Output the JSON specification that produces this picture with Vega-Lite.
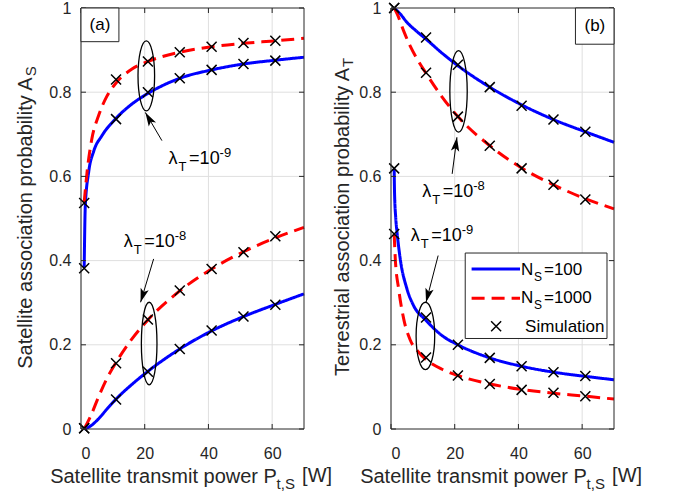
{
  "$schema": "https://vega.github.io/schema/vega-lite/v6.json",
  "background": "white",
  "padding": {"left": 15, "top": 0, "right": 5, "bottom": 5},
  "spacing": 87,
  "bounds": "flush",
  "config": {
    "font": "Liberation Sans",
    "view": {"stroke": null},
    "axis": {
      "labelFont": "Liberation Sans", "labelFontSize": 16, "labelColor": "#262626",
      "titleFont": "Liberation Sans", "titleFontSize": 20, "titleFontWeight": "normal", "titleColor": "#262626",
      "ticks": false, "grid": false, "domain": false
    },
    "text": {"font": "Liberation Sans"}
  },
  "datasets": {
    "one": [{}],
    "gx": [{"P":0},{"P":20},{"P":40},{"P":60}],
    "gy": [{"v":0.2},{"v":0.4},{"v":0.6},{"v":0.8}],
    "tx": [{"P":0},{"P":20},{"P":40},{"P":60}],
    "ty": [{"v":0},{"v":0.2},{"v":0.4},{"v":0.6},{"v":0.8},{"v":1}],
    "curves": [
      {"panel":"a","lam":"1e-9","ns":"100","P":1,"v":0.384},{"panel":"a","lam":"1e-9","ns":"100","P":1.35,"v":0.53},{"panel":"a","lam":"1e-9","ns":"100","P":2.4,"v":0.61},{"panel":"a","lam":"1e-9","ns":"100","P":4,"v":0.66},{"panel":"a","lam":"1e-9","ns":"100","P":6.6,"v":0.697},{"panel":"a","lam":"1e-9","ns":"100","P":11,"v":0.738},{"panel":"a","lam":"1e-9","ns":"100","P":16,"v":0.772},{"panel":"a","lam":"1e-9","ns":"100","P":21,"v":0.797},{"panel":"a","lam":"1e-9","ns":"100","P":31,"v":0.833},{"panel":"a","lam":"1e-9","ns":"100","P":41,"v":0.853},{"panel":"a","lam":"1e-9","ns":"100","P":51,"v":0.867},{"panel":"a","lam":"1e-9","ns":"100","P":61,"v":0.876},{"panel":"a","lam":"1e-9","ns":"100","P":70,"v":0.883},
      {"panel":"a","lam":"1e-9","ns":"1000","P":1,"v":0.538},{"panel":"a","lam":"1e-9","ns":"1000","P":1.9,"v":0.61},{"panel":"a","lam":"1e-9","ns":"1000","P":3.4,"v":0.689},{"panel":"a","lam":"1e-9","ns":"1000","P":5.5,"v":0.744},{"panel":"a","lam":"1e-9","ns":"1000","P":8.1,"v":0.79},{"panel":"a","lam":"1e-9","ns":"1000","P":11,"v":0.822},{"panel":"a","lam":"1e-9","ns":"1000","P":16,"v":0.855},{"panel":"a","lam":"1e-9","ns":"1000","P":21,"v":0.873},{"panel":"a","lam":"1e-9","ns":"1000","P":31,"v":0.895},{"panel":"a","lam":"1e-9","ns":"1000","P":41,"v":0.908},{"panel":"a","lam":"1e-9","ns":"1000","P":51,"v":0.916},{"panel":"a","lam":"1e-9","ns":"1000","P":61,"v":0.922},{"panel":"a","lam":"1e-9","ns":"1000","P":70,"v":0.928},
      {"panel":"a","lam":"1e-8","ns":"100","P":1,"v":0},{"panel":"a","lam":"1e-8","ns":"100","P":3,"v":0.007},{"panel":"a","lam":"1e-8","ns":"100","P":5.6,"v":0.025},{"panel":"a","lam":"1e-8","ns":"100","P":8,"v":0.046},{"panel":"a","lam":"1e-8","ns":"100","P":11,"v":0.071},{"panel":"a","lam":"1e-8","ns":"100","P":16,"v":0.106},{"panel":"a","lam":"1e-8","ns":"100","P":21,"v":0.137},{"panel":"a","lam":"1e-8","ns":"100","P":31,"v":0.19},{"panel":"a","lam":"1e-8","ns":"100","P":41,"v":0.233},{"panel":"a","lam":"1e-8","ns":"100","P":51,"v":0.267},{"panel":"a","lam":"1e-8","ns":"100","P":61,"v":0.296},{"panel":"a","lam":"1e-8","ns":"100","P":70,"v":0.321},
      {"panel":"a","lam":"1e-8","ns":"1000","P":1,"v":0},{"panel":"a","lam":"1e-8","ns":"1000","P":3,"v":0.03},{"panel":"a","lam":"1e-8","ns":"1000","P":5.6,"v":0.078},{"panel":"a","lam":"1e-8","ns":"1000","P":8,"v":0.118},{"panel":"a","lam":"1e-8","ns":"1000","P":11,"v":0.158},{"panel":"a","lam":"1e-8","ns":"1000","P":16,"v":0.214},{"panel":"a","lam":"1e-8","ns":"1000","P":21,"v":0.259},{"panel":"a","lam":"1e-8","ns":"1000","P":31,"v":0.328},{"panel":"a","lam":"1e-8","ns":"1000","P":41,"v":0.38},{"panel":"a","lam":"1e-8","ns":"1000","P":51,"v":0.421},{"panel":"a","lam":"1e-8","ns":"1000","P":61,"v":0.454},{"panel":"a","lam":"1e-8","ns":"1000","P":70,"v":0.479},
      {"panel":"b","lam":"1e-8","ns":"100","P":1,"v":1},{"panel":"b","lam":"1e-8","ns":"100","P":3,"v":0.985},{"panel":"b","lam":"1e-8","ns":"100","P":5,"v":0.966},{"panel":"b","lam":"1e-8","ns":"100","P":8,"v":0.945},{"panel":"b","lam":"1e-8","ns":"100","P":11,"v":0.926},{"panel":"b","lam":"1e-8","ns":"100","P":16,"v":0.893},{"panel":"b","lam":"1e-8","ns":"100","P":21,"v":0.863},{"panel":"b","lam":"1e-8","ns":"100","P":31,"v":0.812},{"panel":"b","lam":"1e-8","ns":"100","P":41,"v":0.77},{"panel":"b","lam":"1e-8","ns":"100","P":51,"v":0.735},{"panel":"b","lam":"1e-8","ns":"100","P":61,"v":0.706},{"panel":"b","lam":"1e-8","ns":"100","P":70,"v":0.681},
      {"panel":"b","lam":"1e-8","ns":"1000","P":1,"v":1},{"panel":"b","lam":"1e-8","ns":"1000","P":2,"v":0.985},{"panel":"b","lam":"1e-8","ns":"1000","P":4,"v":0.945},{"panel":"b","lam":"1e-8","ns":"1000","P":6,"v":0.91},{"panel":"b","lam":"1e-8","ns":"1000","P":8.5,"v":0.875},{"panel":"b","lam":"1e-8","ns":"1000","P":11,"v":0.845},{"panel":"b","lam":"1e-8","ns":"1000","P":16,"v":0.789},{"panel":"b","lam":"1e-8","ns":"1000","P":21,"v":0.742},{"panel":"b","lam":"1e-8","ns":"1000","P":31,"v":0.673},{"panel":"b","lam":"1e-8","ns":"1000","P":41,"v":0.62},{"panel":"b","lam":"1e-8","ns":"1000","P":51,"v":0.58},{"panel":"b","lam":"1e-8","ns":"1000","P":61,"v":0.547},{"panel":"b","lam":"1e-8","ns":"1000","P":70,"v":0.523},
      {"panel":"b","lam":"1e-9","ns":"100","P":1,"v":0.618},{"panel":"b","lam":"1e-9","ns":"100","P":1.1,"v":0.565},{"panel":"b","lam":"1e-9","ns":"100","P":1.5,"v":0.5},{"panel":"b","lam":"1e-9","ns":"100","P":1.9,"v":0.467},{"panel":"b","lam":"1e-9","ns":"100","P":2.9,"v":0.404},{"panel":"b","lam":"1e-9","ns":"100","P":5,"v":0.333},{"panel":"b","lam":"1e-9","ns":"100","P":7.1,"v":0.293},{"panel":"b","lam":"1e-9","ns":"100","P":11,"v":0.258},{"panel":"b","lam":"1e-9","ns":"100","P":16,"v":0.222},{"panel":"b","lam":"1e-9","ns":"100","P":21,"v":0.2},{"panel":"b","lam":"1e-9","ns":"100","P":31,"v":0.169},{"panel":"b","lam":"1e-9","ns":"100","P":41,"v":0.149},{"panel":"b","lam":"1e-9","ns":"100","P":51,"v":0.135},{"panel":"b","lam":"1e-9","ns":"100","P":61,"v":0.125},{"panel":"b","lam":"1e-9","ns":"100","P":70,"v":0.117},
      {"panel":"b","lam":"1e-9","ns":"1000","P":1,"v":0.463},{"panel":"b","lam":"1e-9","ns":"1000","P":1.35,"v":0.404},{"panel":"b","lam":"1e-9","ns":"1000","P":2.4,"v":0.333},{"panel":"b","lam":"1e-9","ns":"1000","P":4,"v":0.261},{"panel":"b","lam":"1e-9","ns":"1000","P":6,"v":0.212},{"panel":"b","lam":"1e-9","ns":"1000","P":8.6,"v":0.183},{"panel":"b","lam":"1e-9","ns":"1000","P":11,"v":0.165},{"panel":"b","lam":"1e-9","ns":"1000","P":16,"v":0.142},{"panel":"b","lam":"1e-9","ns":"1000","P":21,"v":0.127},{"panel":"b","lam":"1e-9","ns":"1000","P":31,"v":0.107},{"panel":"b","lam":"1e-9","ns":"1000","P":41,"v":0.094},{"panel":"b","lam":"1e-9","ns":"1000","P":51,"v":0.085},{"panel":"b","lam":"1e-9","ns":"1000","P":61,"v":0.078},{"panel":"b","lam":"1e-9","ns":"1000","P":70,"v":0.071}
    ],
    "sims": [
      {"panel":"a","lam":"1e-9","ns":"100","P":1,"v":0.382},{"panel":"a","lam":"1e-9","ns":"100","P":11,"v":0.736},{"panel":"a","lam":"1e-9","ns":"100","P":21,"v":0.8},{"panel":"a","lam":"1e-9","ns":"100","P":31,"v":0.833},{"panel":"a","lam":"1e-9","ns":"100","P":41,"v":0.853},{"panel":"a","lam":"1e-9","ns":"100","P":51,"v":0.867},{"panel":"a","lam":"1e-9","ns":"100","P":61,"v":0.875},
      {"panel":"a","lam":"1e-9","ns":"1000","P":1,"v":0.537},{"panel":"a","lam":"1e-9","ns":"1000","P":11,"v":0.83},{"panel":"a","lam":"1e-9","ns":"1000","P":21,"v":0.873},{"panel":"a","lam":"1e-9","ns":"1000","P":31,"v":0.895},{"panel":"a","lam":"1e-9","ns":"1000","P":41,"v":0.908},{"panel":"a","lam":"1e-9","ns":"1000","P":51,"v":0.917},{"panel":"a","lam":"1e-9","ns":"1000","P":61,"v":0.922},
      {"panel":"a","lam":"1e-8","ns":"100","P":1,"v":0.002},{"panel":"a","lam":"1e-8","ns":"100","P":11,"v":0.07},{"panel":"a","lam":"1e-8","ns":"100","P":21,"v":0.136},{"panel":"a","lam":"1e-8","ns":"100","P":31,"v":0.19},{"panel":"a","lam":"1e-8","ns":"100","P":41,"v":0.234},{"panel":"a","lam":"1e-8","ns":"100","P":51,"v":0.267},{"panel":"a","lam":"1e-8","ns":"100","P":61,"v":0.295},
      {"panel":"a","lam":"1e-8","ns":"1000","P":1,"v":0.002},{"panel":"a","lam":"1e-8","ns":"1000","P":11,"v":0.156},{"panel":"a","lam":"1e-8","ns":"1000","P":21,"v":0.26},{"panel":"a","lam":"1e-8","ns":"1000","P":31,"v":0.329},{"panel":"a","lam":"1e-8","ns":"1000","P":41,"v":0.38},{"panel":"a","lam":"1e-8","ns":"1000","P":51,"v":0.42},{"panel":"a","lam":"1e-8","ns":"1000","P":61,"v":0.458},
      {"panel":"b","lam":"1e-8","ns":"100","P":1,"v":1},{"panel":"b","lam":"1e-8","ns":"100","P":11,"v":0.93},{"panel":"b","lam":"1e-8","ns":"100","P":21,"v":0.865},{"panel":"b","lam":"1e-8","ns":"100","P":31,"v":0.812},{"panel":"b","lam":"1e-8","ns":"100","P":41,"v":0.768},{"panel":"b","lam":"1e-8","ns":"100","P":51,"v":0.735},{"panel":"b","lam":"1e-8","ns":"100","P":61,"v":0.706},
      {"panel":"b","lam":"1e-8","ns":"1000","P":1,"v":1},{"panel":"b","lam":"1e-8","ns":"1000","P":11,"v":0.846},{"panel":"b","lam":"1e-8","ns":"1000","P":21,"v":0.742},{"panel":"b","lam":"1e-8","ns":"1000","P":31,"v":0.673},{"panel":"b","lam":"1e-8","ns":"1000","P":41,"v":0.619},{"panel":"b","lam":"1e-8","ns":"1000","P":51,"v":0.58},{"panel":"b","lam":"1e-8","ns":"1000","P":61,"v":0.545},
      {"panel":"b","lam":"1e-9","ns":"100","P":1,"v":0.619},{"panel":"b","lam":"1e-9","ns":"100","P":11,"v":0.265},{"panel":"b","lam":"1e-9","ns":"100","P":21,"v":0.2},{"panel":"b","lam":"1e-9","ns":"100","P":31,"v":0.169},{"panel":"b","lam":"1e-9","ns":"100","P":41,"v":0.149},{"panel":"b","lam":"1e-9","ns":"100","P":51,"v":0.135},{"panel":"b","lam":"1e-9","ns":"100","P":61,"v":0.126},
      {"panel":"b","lam":"1e-9","ns":"1000","P":1,"v":0.463},{"panel":"b","lam":"1e-9","ns":"1000","P":11,"v":0.17},{"panel":"b","lam":"1e-9","ns":"1000","P":21,"v":0.127},{"panel":"b","lam":"1e-9","ns":"1000","P":31,"v":0.107},{"panel":"b","lam":"1e-9","ns":"1000","P":41,"v":0.093},{"panel":"b","lam":"1e-9","ns":"1000","P":51,"v":0.086},{"panel":"b","lam":"1e-9","ns":"1000","P":61,"v":0.078}
    ],
    "labels": [
      {"panel":"a","P":27.5,"v":0.629,"exp":"-9"},
      {"panel":"a","P":13.4,"v":0.432,"exp":"-8"},
      {"panel":"b","P":9.8,"v":0.551,"exp":"-8"},
      {"panel":"b","P":6.2,"v":0.446,"exp":"-9"}
    ],
    "legendText": [
      {"ns":"100","rest":"=100","P":40.8,"v":0.366},
      {"ns":"1000","rest":"=1000","P":40.8,"v":0.2986}
    ],
    "legendLines": [
      {"ns":"100","P":25.3,"P2":40.5,"v":0.38},
      {"ns":"1000","P":25.3,"P2":40.5,"v":0.3105}
    ]
  },
  "hconcat": [
    {
      "width": 223,
      "height": 421,
      "layer": [
        {
          "data": {"name": "gx"},
          "mark": {"type": "rule", "color": "#dfdfdf", "strokeWidth": 1},
          "encoding": {
            "x": {"field": "P", "type": "quantitative", "scale": {"domain": [0, 70], "nice": false, "zero": false},
                  "axis": {"orient": "bottom", "values": [0, 20, 40, 60], "labelPadding": 16,
                           "title": "Satellite transmit power P", "titleAlign": "right", "titleBaseline": "alphabetic", "titleX": 195.4, "titleY": 53}},
            "y": {"datum": 0, "type": "quantitative", "scale": {"domain": [0, 1], "nice": false, "zero": false},
                  "axis": {"orient": "left", "values": [0, 0.2, 0.4, 0.6, 0.8, 1], "format": "~g", "labelPadding": 10,
                           "title": "Satellite association probability A", "titleAngle": 270, "titleAlign": "right", "titleBaseline": "alphabetic", "titleX": -50, "titleY": 69}},
            "y2": {"datum": 1}
          }
        },
        {
          "data": {"name": "gy"},
          "mark": {"type": "rule", "color": "#dfdfdf", "strokeWidth": 1},
          "encoding": {"y": {"field": "v", "type": "quantitative", "axis": null}, "x": {"datum": 0, "type": "quantitative", "axis": null}, "x2": {"datum": 70}}
        },
        {
          "data": {"name": "curves"},
          "transform": [{"filter": "datum.panel === 'a'"}],
          "mark": {"type": "line", "strokeWidth": 3, "interpolate": "monotone"},
          "encoding": {
            "x": {"field": "P", "type": "quantitative", "axis": null},
            "y": {"field": "v", "type": "quantitative", "axis": null},
            "color": {"field": "ns", "type": "nominal", "scale": {"domain": ["100", "1000"], "range": ["#0000ff", "#ff0000"]}, "legend": null},
            "strokeDash": {"field": "ns", "type": "nominal", "scale": {"domain": ["100", "1000"], "range": [[1, 0], [13, 7]]}, "legend": null},
            "detail": {"field": "lam"}
          }
        },
        {
          "data": {"name": "sims"},
          "transform": [{"filter": "datum.panel === 'a'"}],
          "mark": {"type": "point", "shape": "M-1,-1L1,1M-1,1L1,-1", "size": 100, "filled": false, "color": "black", "strokeWidth": 1.5, "opacity": 1},
          "encoding": {
            "x": {"field": "P", "type": "quantitative", "axis": null},
            "y": {"field": "v", "type": "quantitative", "axis": null}
          }
        },
        {
          "data": {"name": "one"},
          "mark": {"type": "rect", "filled": false, "color": "#262626", "strokeWidth": 1},
          "encoding": {
            "x": {"datum": 0, "type": "quantitative", "axis": {"orient": "top", "labels": false, "title": null}}, "x2": {"datum": 70},
            "y": {"datum": 0, "type": "quantitative", "axis": {"orient": "right", "labels": false, "title": null}}, "y2": {"datum": 1}
          }
        },
        {
          "data": {"name": "tx"},
          "mark": {"type": "rule", "color": "#262626", "strokeWidth": 1},
          "encoding": {"x": {"field": "P", "type": "quantitative", "axis": null}, "y": {"datum": 0, "type": "quantitative", "axis": null}, "y2": {"datum": 0.0119}}
        },
        {
          "data": {"name": "tx"},
          "mark": {"type": "rule", "color": "#262626", "strokeWidth": 1},
          "encoding": {"x": {"field": "P", "type": "quantitative", "axis": null}, "y": {"datum": 1, "type": "quantitative", "axis": null}, "y2": {"datum": 0.9881}}
        },
        {
          "data": {"name": "ty"},
          "mark": {"type": "rule", "color": "#262626", "strokeWidth": 1},
          "encoding": {"y": {"field": "v", "type": "quantitative", "axis": null}, "x": {"datum": 0, "type": "quantitative", "axis": null}, "x2": {"datum": 1.5625}}
        },
        {
          "data": {"name": "ty"},
          "mark": {"type": "rule", "color": "#262626", "strokeWidth": 1},
          "encoding": {"y": {"field": "v", "type": "quantitative", "axis": null}, "x": {"datum": 70, "type": "quantitative", "axis": null}, "x2": {"datum": 68.4375}}
        },
        {
          "data": {"name": "one"},
          "mark": {"type": "rect", "fill": "white", "stroke": "#262626", "strokeWidth": 1},
          "encoding": {
            "x": {"datum": 0, "type": "quantitative", "axis": null}, "x2": {"datum": 11.9},
            "y": {"datum": 1, "type": "quantitative", "axis": null}, "y2": {"datum": 0.92}
          }
        },
        {
          "data": {"name": "one"},
          "mark": {"type": "text", "text": "(a)", "fontSize": 17, "align": "center", "baseline": "middle", "color": "black"},
          "encoding": {"x": {"datum": 5.95, "type": "quantitative", "axis": null}, "y": {"datum": 0.96, "type": "quantitative", "axis": null}}
        },
        {
          "data": {"name": "one"},
          "mark": {"type": "point", "shape": "M0,-1C0.131,-1 0.237,-0.552 0.237,0C0.237,0.552 0.131,1 0,1C-0.131,1 -0.237,0.552 -0.237,0C-0.237,-0.552 -0.131,-1 0,-1Z", "size": 4900, "filled": false, "color": "black", "strokeWidth": 1.3, "opacity": 1},
          "encoding": {"x": {"datum": 20.5, "type": "quantitative", "axis": null}, "y": {"datum": 0.839, "type": "quantitative", "axis": null}}
        },
        {
          "data": {"name": "one"},
          "mark": {"type": "point", "shape": "M0,-1C0.104,-1 0.189,-0.552 0.189,0C0.189,0.552 0.104,1 0,1C-0.104,1 -0.189,0.552 -0.189,0C-0.189,-0.552 -0.104,-1 0,-1Z", "size": 6823, "filled": false, "color": "black", "strokeWidth": 1.3, "opacity": 1},
          "encoding": {"x": {"datum": 21.4, "type": "quantitative", "axis": null}, "y": {"datum": 0.203, "type": "quantitative", "axis": null}}
        },
        {
          "data": {"name": "one"},
          "mark": {"type": "rule", "color": "black", "strokeWidth": 1},
          "encoding": {"x": {"datum": 25.4, "type": "quantitative", "axis": null}, "y": {"datum": 0.685, "type": "quantitative", "axis": null}, "x2": {"datum": 20.2}, "y2": {"datum": 0.752}}
        },
        {
          "data": {"name": "one"},
          "mark": {"type": "point", "shape": "M0,0L0.6,2L0,1.55L-0.6,2Z", "size": 196, "angle": 329.7, "filled": true, "color": "black", "opacity": 1},
          "encoding": {"x": {"datum": 20.2, "type": "quantitative", "axis": null}, "y": {"datum": 0.752, "type": "quantitative", "axis": null}}
        },
        {
          "data": {"name": "one"},
          "mark": {"type": "rule", "color": "black", "strokeWidth": 1},
          "encoding": {"x": {"datum": 22.8, "type": "quantitative", "axis": null}, "y": {"datum": 0.404, "type": "quantitative", "axis": null}, "x2": {"datum": 18.7}, "y2": {"datum": 0.301}}
        },
        {
          "data": {"name": "one"},
          "mark": {"type": "point", "shape": "M0,0L0.6,2L0,1.55L-0.6,2Z", "size": 196, "angle": 197.1, "filled": true, "color": "black", "opacity": 1},
          "encoding": {"x": {"datum": 18.7, "type": "quantitative", "axis": null}, "y": {"datum": 0.301, "type": "quantitative", "axis": null}}
        },
        {
          "data": {"name": "labels"}, "transform": [{"filter": "datum.panel === 'a'"}],
          "mark": {"type": "text", "text": "λ", "fontSize": 18, "align": "left", "baseline": "alphabetic", "color": "black"},
          "encoding": {"x": {"field": "P", "type": "quantitative", "axis": null}, "y": {"field": "v", "type": "quantitative", "axis": null}}
        },
        {
          "data": {"name": "labels"}, "transform": [{"filter": "datum.panel === 'a'"}],
          "mark": {"type": "text", "text": "T", "fontSize": 13, "dx": 10, "dy": 7, "align": "left", "baseline": "alphabetic", "color": "black"},
          "encoding": {"x": {"field": "P", "type": "quantitative", "axis": null}, "y": {"field": "v", "type": "quantitative", "axis": null}}
        },
        {
          "data": {"name": "labels"}, "transform": [{"filter": "datum.panel === 'a'"}],
          "mark": {"type": "text", "text": "=10", "fontSize": 18, "dx": 20.5, "align": "left", "baseline": "alphabetic", "color": "black"},
          "encoding": {"x": {"field": "P", "type": "quantitative", "axis": null}, "y": {"field": "v", "type": "quantitative", "axis": null}}
        },
        {
          "data": {"name": "labels"}, "transform": [{"filter": "datum.panel === 'a'"}],
          "mark": {"type": "text", "fontSize": 13, "dx": 51, "dy": -7, "align": "left", "baseline": "alphabetic", "color": "black"},
          "encoding": {"x": {"field": "P", "type": "quantitative", "axis": null}, "y": {"field": "v", "type": "quantitative", "axis": null}, "text": {"field": "exp"}}
        },
        {
          "data": {"name": "one"},
          "mark": {"type": "text", "text": "t,S", "fontSize": 15, "align": "left", "baseline": "alphabetic", "color": "#262626"},
          "encoding": {"x": {"datum": 61.4, "type": "quantitative", "axis": null}, "y": {"datum": -0.1425, "type": "quantitative", "axis": null}}
        },
        {
          "data": {"name": "one"},
          "mark": {"type": "text", "text": "[W]", "fontSize": 20, "align": "left", "baseline": "alphabetic", "color": "#262626"},
          "encoding": {"x": {"datum": 69.4, "type": "quantitative", "axis": null}, "y": {"datum": -0.1259, "type": "quantitative", "axis": null}}
        },
        {
          "data": {"name": "one"},
          "mark": {"type": "text", "text": "S", "fontSize": 15, "angle": 270, "align": "left", "baseline": "alphabetic", "color": "#262626"},
          "encoding": {"x": {"datum": -14.06, "type": "quantitative", "axis": null}, "y": {"datum": 0.838, "type": "quantitative", "axis": null}}
        }
      ]
    },
    {
      "width": 223,
      "height": 421,
      "layer": [
        {
          "data": {"name": "gx"},
          "mark": {"type": "rule", "color": "#dfdfdf", "strokeWidth": 1},
          "encoding": {
            "x": {"field": "P", "type": "quantitative", "scale": {"domain": [0, 70], "nice": false, "zero": false},
                  "axis": {"orient": "bottom", "values": [0, 20, 40, 60], "labelPadding": 16,
                           "title": "Satellite transmit power P", "titleAlign": "right", "titleBaseline": "alphabetic", "titleX": 195.4, "titleY": 53}},
            "y": {"datum": 0, "type": "quantitative", "scale": {"domain": [0, 1], "nice": false, "zero": false},
                  "axis": {"orient": "left", "values": [0, 0.2, 0.4, 0.6, 0.8, 1], "format": "~g", "labelPadding": 10,
                           "title": "Terrestrial association probability A", "titleAngle": 270, "titleAlign": "right", "titleBaseline": "alphabetic", "titleX": -43, "titleY": 59.5}},
            "y2": {"datum": 1}
          }
        },
        {
          "data": {"name": "gy"},
          "mark": {"type": "rule", "color": "#dfdfdf", "strokeWidth": 1},
          "encoding": {"y": {"field": "v", "type": "quantitative", "axis": null}, "x": {"datum": 0, "type": "quantitative", "axis": null}, "x2": {"datum": 70}}
        },
        {
          "data": {"name": "curves"},
          "transform": [{"filter": "datum.panel === 'b'"}],
          "mark": {"type": "line", "strokeWidth": 3, "interpolate": "monotone"},
          "encoding": {
            "x": {"field": "P", "type": "quantitative", "axis": null},
            "y": {"field": "v", "type": "quantitative", "axis": null},
            "color": {"field": "ns", "type": "nominal", "scale": {"domain": ["100", "1000"], "range": ["#0000ff", "#ff0000"]}, "legend": null},
            "strokeDash": {"field": "ns", "type": "nominal", "scale": {"domain": ["100", "1000"], "range": [[1, 0], [13, 7]]}, "legend": null},
            "detail": {"field": "lam"}
          }
        },
        {
          "data": {"name": "sims"},
          "transform": [{"filter": "datum.panel === 'b'"}],
          "mark": {"type": "point", "shape": "M-1,-1L1,1M-1,1L1,-1", "size": 100, "filled": false, "color": "black", "strokeWidth": 1.5, "opacity": 1},
          "encoding": {
            "x": {"field": "P", "type": "quantitative", "axis": null},
            "y": {"field": "v", "type": "quantitative", "axis": null}
          }
        },
        {
          "data": {"name": "one"},
          "mark": {"type": "rect", "filled": false, "color": "#262626", "strokeWidth": 1},
          "encoding": {
            "x": {"datum": 0, "type": "quantitative", "axis": {"orient": "top", "labels": false, "title": null}}, "x2": {"datum": 70},
            "y": {"datum": 0, "type": "quantitative", "axis": {"orient": "right", "labels": false, "title": null}}, "y2": {"datum": 1}
          }
        },
        {
          "data": {"name": "tx"},
          "mark": {"type": "rule", "color": "#262626", "strokeWidth": 1},
          "encoding": {"x": {"field": "P", "type": "quantitative", "axis": null}, "y": {"datum": 0, "type": "quantitative", "axis": null}, "y2": {"datum": 0.0119}}
        },
        {
          "data": {"name": "tx"},
          "mark": {"type": "rule", "color": "#262626", "strokeWidth": 1},
          "encoding": {"x": {"field": "P", "type": "quantitative", "axis": null}, "y": {"datum": 1, "type": "quantitative", "axis": null}, "y2": {"datum": 0.9881}}
        },
        {
          "data": {"name": "ty"},
          "mark": {"type": "rule", "color": "#262626", "strokeWidth": 1},
          "encoding": {"y": {"field": "v", "type": "quantitative", "axis": null}, "x": {"datum": 0, "type": "quantitative", "axis": null}, "x2": {"datum": 1.5625}}
        },
        {
          "data": {"name": "ty"},
          "mark": {"type": "rule", "color": "#262626", "strokeWidth": 1},
          "encoding": {"y": {"field": "v", "type": "quantitative", "axis": null}, "x": {"datum": 70, "type": "quantitative", "axis": null}, "x2": {"datum": 68.4375}}
        },
        {
          "data": {"name": "one"},
          "mark": {"type": "rect", "fill": "white", "stroke": "#262626", "strokeWidth": 1},
          "encoding": {
            "x": {"datum": 57.9, "type": "quantitative", "axis": null}, "x2": {"datum": 70},
            "y": {"datum": 1, "type": "quantitative", "axis": null}, "y2": {"datum": 0.914}
          }
        },
        {
          "data": {"name": "one"},
          "mark": {"type": "text", "text": "(b)", "fontSize": 17, "align": "center", "baseline": "middle", "color": "black"},
          "encoding": {"x": {"datum": 64, "type": "quantitative", "axis": null}, "y": {"datum": 0.957, "type": "quantitative", "axis": null}}
        },
        {
          "data": {"name": "one"},
          "mark": {"type": "point", "shape": "M0,-1C0.118,-1 0.213,-0.552 0.213,0C0.213,0.552 0.118,1 0,1C-0.118,1 -0.213,0.552 -0.213,0C-0.213,-0.552 -0.118,-1 0,-1Z", "size": 6659, "filled": false, "color": "black", "strokeWidth": 1.3, "opacity": 1},
          "encoding": {"x": {"datum": 21.2, "type": "quantitative", "axis": null}, "y": {"datum": 0.802, "type": "quantitative", "axis": null}}
        },
        {
          "data": {"name": "one"},
          "mark": {"type": "point", "shape": "M0,-1C0.152,-1 0.276,-0.552 0.276,0C0.276,0.552 0.152,1 0,1C-0.152,1 -0.276,0.552 -0.276,0C-0.276,-0.552 -0.152,-1 0,-1Z", "size": 4543, "filled": false, "color": "black", "strokeWidth": 1.3, "opacity": 1},
          "encoding": {"x": {"datum": 10.8, "type": "quantitative", "axis": null}, "y": {"datum": 0.221, "type": "quantitative", "axis": null}}
        },
        {
          "data": {"name": "one"},
          "mark": {"type": "rule", "color": "black", "strokeWidth": 1},
          "encoding": {"x": {"datum": 19.2, "type": "quantitative", "axis": null}, "y": {"datum": 0.606, "type": "quantitative", "axis": null}, "x2": {"datum": 20.7}, "y2": {"datum": 0.693}}
        },
        {
          "data": {"name": "one"},
          "mark": {"type": "point", "shape": "M0,0L0.6,2L0,1.55L-0.6,2Z", "size": 196, "angle": 7.8, "filled": true, "color": "black", "opacity": 1},
          "encoding": {"x": {"datum": 20.7, "type": "quantitative", "axis": null}, "y": {"datum": 0.693, "type": "quantitative", "axis": null}}
        },
        {
          "data": {"name": "one"},
          "mark": {"type": "rule", "color": "black", "strokeWidth": 1},
          "encoding": {"x": {"datum": 14.8, "type": "quantitative", "axis": null}, "y": {"datum": 0.412, "type": "quantitative", "axis": null}, "x2": {"datum": 11.0}, "y2": {"datum": 0.301}}
        },
        {
          "data": {"name": "one"},
          "mark": {"type": "point", "shape": "M0,0L0.6,2L0,1.55L-0.6,2Z", "size": 196, "angle": 194.4, "filled": true, "color": "black", "opacity": 1},
          "encoding": {"x": {"datum": 11.0, "type": "quantitative", "axis": null}, "y": {"datum": 0.301, "type": "quantitative", "axis": null}}
        },
        {
          "data": {"name": "labels"}, "transform": [{"filter": "datum.panel === 'b'"}],
          "mark": {"type": "text", "text": "λ", "fontSize": 18, "align": "left", "baseline": "alphabetic", "color": "black"},
          "encoding": {"x": {"field": "P", "type": "quantitative", "axis": null}, "y": {"field": "v", "type": "quantitative", "axis": null}}
        },
        {
          "data": {"name": "labels"}, "transform": [{"filter": "datum.panel === 'b'"}],
          "mark": {"type": "text", "text": "T", "fontSize": 13, "dx": 10, "dy": 7, "align": "left", "baseline": "alphabetic", "color": "black"},
          "encoding": {"x": {"field": "P", "type": "quantitative", "axis": null}, "y": {"field": "v", "type": "quantitative", "axis": null}}
        },
        {
          "data": {"name": "labels"}, "transform": [{"filter": "datum.panel === 'b'"}],
          "mark": {"type": "text", "text": "=10", "fontSize": 18, "dx": 20.5, "align": "left", "baseline": "alphabetic", "color": "black"},
          "encoding": {"x": {"field": "P", "type": "quantitative", "axis": null}, "y": {"field": "v", "type": "quantitative", "axis": null}}
        },
        {
          "data": {"name": "labels"}, "transform": [{"filter": "datum.panel === 'b'"}],
          "mark": {"type": "text", "fontSize": 13, "dx": 51, "dy": -7, "align": "left", "baseline": "alphabetic", "color": "black"},
          "encoding": {"x": {"field": "P", "type": "quantitative", "axis": null}, "y": {"field": "v", "type": "quantitative", "axis": null}, "text": {"field": "exp"}}
        },
        {
          "data": {"name": "one"},
          "mark": {"type": "rect", "fill": "white", "stroke": "#262626", "strokeWidth": 1},
          "encoding": {
            "x": {"datum": 23.3, "type": "quantitative", "axis": null}, "x2": {"datum": 67.8},
            "y": {"datum": 0.418, "type": "quantitative", "axis": null}, "y2": {"datum": 0.215}
          }
        },
        {
          "data": {"name": "legendLines"},
          "mark": {"type": "rule", "strokeWidth": 3},
          "encoding": {
            "x": {"field": "P", "type": "quantitative", "axis": null}, "x2": {"field": "P2"},
            "y": {"field": "v", "type": "quantitative", "axis": null},
            "color": {"field": "ns", "type": "nominal", "scale": {"domain": ["100", "1000"], "range": ["#0000ff", "#ff0000"]}, "legend": null},
            "strokeDash": {"field": "ns", "type": "nominal", "scale": {"domain": ["100", "1000"], "range": [[1, 0], [13, 7]]}, "legend": null}
          }
        },
        {
          "data": {"name": "one"},
          "mark": {"type": "point", "shape": "M-1,-1L1,1M-1,1L1,-1", "size": 100, "filled": false, "color": "black", "strokeWidth": 1.5, "opacity": 1},
          "encoding": {"x": {"datum": 33.0, "type": "quantitative", "axis": null}, "y": {"datum": 0.244, "type": "quantitative", "axis": null}}
        },
        {
          "data": {"name": "legendText"},
          "mark": {"type": "text", "text": "N", "fontSize": 17, "align": "left", "baseline": "alphabetic", "color": "black"},
          "encoding": {"x": {"field": "P", "type": "quantitative", "axis": null}, "y": {"field": "v", "type": "quantitative", "axis": null}}
        },
        {
          "data": {"name": "legendText"},
          "mark": {"type": "text", "text": "S", "fontSize": 12, "dx": 13, "dy": 6, "align": "left", "baseline": "alphabetic", "color": "black"},
          "encoding": {"x": {"field": "P", "type": "quantitative", "axis": null}, "y": {"field": "v", "type": "quantitative", "axis": null}}
        },
        {
          "data": {"name": "legendText"},
          "mark": {"type": "text", "fontSize": 17, "dx": 23, "align": "left", "baseline": "alphabetic", "color": "black"},
          "encoding": {"x": {"field": "P", "type": "quantitative", "axis": null}, "y": {"field": "v", "type": "quantitative", "axis": null}, "text": {"field": "rest"}}
        },
        {
          "data": {"name": "one"},
          "mark": {"type": "text", "text": "Simulation", "fontSize": 17, "align": "left", "baseline": "alphabetic", "color": "black"},
          "encoding": {"x": {"datum": 42.1, "type": "quantitative", "axis": null}, "y": {"datum": 0.23, "type": "quantitative", "axis": null}}
        },
        {
          "data": {"name": "one"},
          "mark": {"type": "text", "text": "t,S", "fontSize": 15, "align": "left", "baseline": "alphabetic", "color": "#262626"},
          "encoding": {"x": {"datum": 61.4, "type": "quantitative", "axis": null}, "y": {"datum": -0.1425, "type": "quantitative", "axis": null}}
        },
        {
          "data": {"name": "one"},
          "mark": {"type": "text", "text": "[W]", "fontSize": 20, "align": "left", "baseline": "alphabetic", "color": "#262626"},
          "encoding": {"x": {"datum": 69.4, "type": "quantitative", "axis": null}, "y": {"datum": -0.1259, "type": "quantitative", "axis": null}}
        },
        {
          "data": {"name": "one"},
          "mark": {"type": "text", "text": "T", "fontSize": 15, "angle": 270, "align": "left", "baseline": "alphabetic", "color": "#262626"},
          "encoding": {"x": {"datum": -11.875, "type": "quantitative", "axis": null}, "y": {"datum": 0.86, "type": "quantitative", "axis": null}}
        }
      ]
    }
  ]
}
